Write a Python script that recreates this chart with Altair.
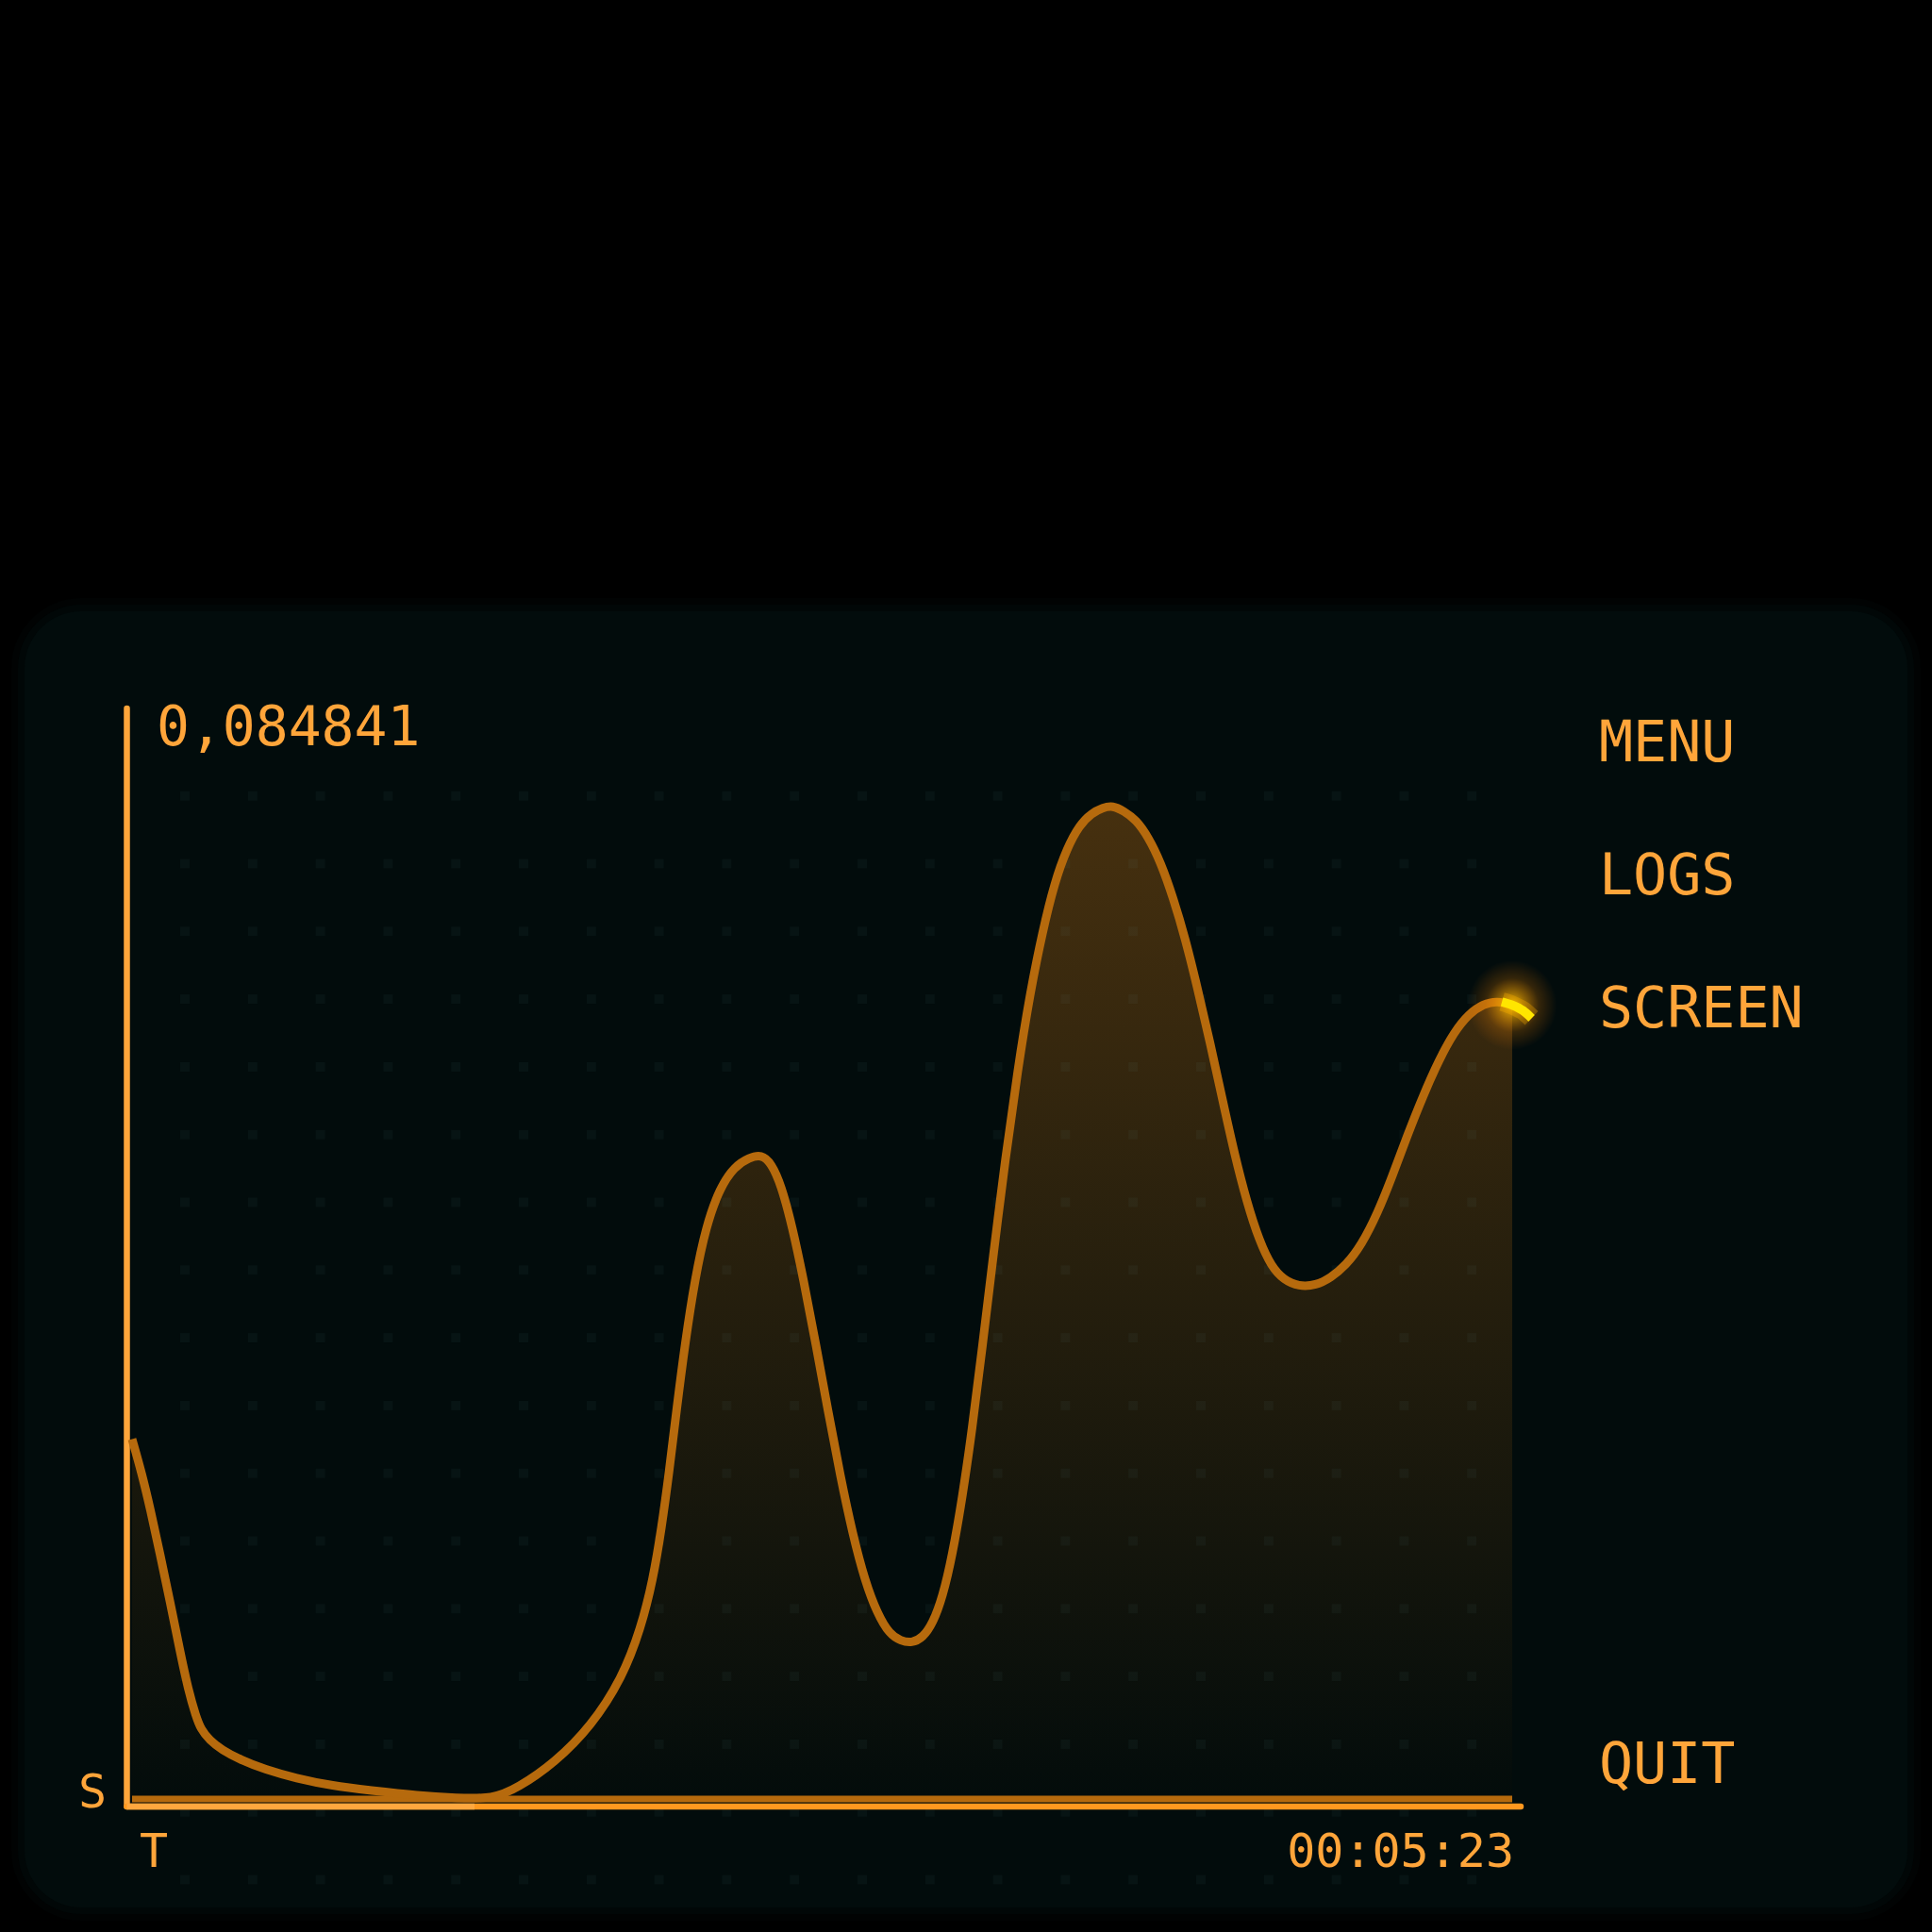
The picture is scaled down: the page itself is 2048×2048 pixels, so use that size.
import altair as alt
import pandas as pd

# ---------------- data ----------------
# elapsed time (s) and signal level (fraction of the axis height)
curve_t = [0.0, 2.25, 4.27, 6.58, 8.89, 11.19, 13.21, 14.94, 16.10,
           18.11, 21.00, 25.32, 31.09, 38.30, 46.95, 55.60, 67.14, 75.79, 84.44,
           90.20, 98.86, 107.51, 114.72, 119.04, 121.92, 123.94, 125.67, 127.40,
           129.42, 131.73, 134.32, 137.50, 140.96, 144.42, 147.30,
           149.61, 151.91, 154.51, 157.11, 159.99, 162.87, 165.76, 168.64, 171.52,
           174.41, 177.29, 179.89, 182.48,
           185.08, 187.38, 189.69, 192.00, 194.30, 196.61, 198.92, 201.51, 204.40,
           207.28, 210.16, 213.05, 215.93, 218.82, 221.70, 224.58, 227.18, 229.49,
           232.08, 234.96, 237.85, 240.73, 243.61, 246.50, 249.38, 252.27, 255.15,
           258.03, 260.92, 263.80, 266.68, 269.57, 273.03, 277.07,
           280.53, 284.00, 287.73, 291.48, 294.94, 298.40, 302.15, 305.90, 309.36,
           312.82, 316.28, 319.45, 323.0, 325.51, 327.53]
curve_v = [0.330, 0.299, 0.266, 0.224, 0.181, 0.136, 0.099, 0.076, 0.064,
           0.054, 0.045, 0.036, 0.027, 0.019, 0.012, 0.008, 0.003, 0.001, 0.000,
           0.010, 0.033, 0.067, 0.111, 0.156, 0.201, 0.249, 0.299, 0.356,
           0.418, 0.477, 0.525, 0.560, 0.580, 0.588, 0.591,
           0.583, 0.563, 0.525, 0.477, 0.418, 0.356, 0.296, 0.243, 0.200,
           0.170, 0.151, 0.145, 0.143,
           0.148, 0.161, 0.185, 0.224, 0.276, 0.339, 0.412, 0.497, 0.588,
           0.669, 0.739, 0.795, 0.841, 0.872, 0.893, 0.904, 0.909, 0.911,
           0.906, 0.898, 0.882, 0.859, 0.827, 0.789, 0.743, 0.694, 0.642,
           0.591, 0.547, 0.512, 0.488, 0.476, 0.470, 0.471,
           0.478, 0.489, 0.508, 0.537, 0.571, 0.608, 0.645, 0.678, 0.703,
           0.720, 0.729, 0.732, 0.728, 0.723, 0.716]

# highlighted head of the trace
head_t = [320.6, 323.0, 325.51, 327.53]
head_v = [0.731, 0.728, 0.723, 0.716]

duration = 323  # seconds shown on the time axis
value_label = "0,084841"
time_label = "00:05:23"
y_letter = "S"
x_letter = "T"
menu_items = ["MENU", "LOGS", "SCREEN", "QUIT"]

grid_cols = list(range(20))
grid_rows = list(range(17))

# ---------------- styling / layout ----------------
W, H = 1463, 1156
ORANGE = "#ffa53a"
TRACE = "#b66a0d"
PANEL = "#020c0c"
FONT = "DejaVu Sans Mono"
CURVE = "basis"

curve_df = pd.DataFrame({"t": curve_t, "v": curve_v})
area_df = curve_df[curve_df["t"] <= duration]
head_df = pd.DataFrame({"t": head_t, "v": head_v})
grid_df = pd.DataFrame([{"col": c, "row": r} for r in grid_rows for c in grid_cols])
one = pd.DataFrame({"k": [0]})

xs = alt.Scale(domain=[0, duration], nice=False, zero=False)
ys = alt.Scale(domain=[0, 1], nice=False, zero=False)
X = alt.X("t:Q", scale=xs, axis=None)
Y = alt.Y("v:Q", scale=ys, axis=None)

# panel (soft edged rounded rectangle)
panel_layers = []
for grow, op, rad in [(14, 0.25, 74), (7, 0.5, 67), (0, 1.0, 60)]:
    panel_layers.append(
        alt.Chart(one).mark_rect(color=PANEL, opacity=op, cornerRadius=rad).encode(
            x=alt.value(-114 - grow), x2=alt.value(1882 + grow),
            y=alt.value(-103 - grow), y2=alt.value(1271 + grow)))

area = alt.Chart(area_df).mark_area(
    interpolate=CURVE,
    color={"gradient": "linear", "x1": 0, "y1": 0, "x2": 0, "y2": 1,
           "stops": [{"offset": 0, "color": "#46300f"},
                     {"offset": 1, "color": "#030c0b"}]}
).encode(x=X, y=Y)

dots = alt.Chart(grid_df).mark_square(size=100, color="#7fb0b0", opacity=0.05).encode(
    x=alt.X("col:Q", scale=alt.Scale(domain=[-56 / 71.8, (W - 56) / 71.8], nice=False, zero=False), axis=None),
    y=alt.Y("row:Q", scale=alt.Scale(domain=[-92.7 / 71.8, (H - 92.7) / 71.8], nice=False, zero=False, reverse=True), axis=None),
)

baseline = alt.Chart(one).mark_rule(color=TRACE, strokeWidth=7).encode(
    x=alt.datum(0, scale=xs), x2=alt.datum(duration), y=alt.datum(0, scale=ys))

y_axis = alt.Chart(one).mark_rule(color=ORANGE, strokeWidth=6.5, strokeCap="round").encode(
    x=alt.value(-5.5), y=alt.value(0), y2=alt.value(1164))
x_axis = alt.Chart(one).mark_rule(color="#ff981f", strokeWidth=6.5, strokeCap="round").encode(
    y=alt.value(1164), x=alt.value(-5.5), x2=alt.value(1472))
x_axis_light = alt.Chart(one).mark_rule(color="#ffa73e", strokeWidth=6.5).encode(
    y=alt.value(1164), x=alt.value(-5.5), x2=alt.value(363))

line = alt.Chart(curve_df).mark_line(interpolate=CURVE, color=TRACE, strokeWidth=9).encode(x=X, y=Y)

glow = alt.Chart(head_df.iloc[[1]]).mark_circle(
    size=9000, opacity=1,
    color={"gradient": "radial", "x1": 0.5, "y1": 0.5, "r1": 0, "x2": 0.5, "y2": 0.5, "r2": 0.5,
           "stops": [{"offset": 0, "color": "rgba(255,200,0,0.95)"},
                     {"offset": 0.3, "color": "rgba(255,170,0,0.55)"},
                     {"offset": 0.6, "color": "rgba(255,140,0,0.2)"},
                     {"offset": 1, "color": "rgba(255,120,0,0)"}]}
).encode(x=X, y=alt.Y("v:Q", scale=ys, axis=None))

head_halo = alt.Chart(head_df).mark_line(
    interpolate="monotone", color="#ffb000", strokeWidth=20, opacity=0.3, strokeCap="butt"
).encode(x=X, y=Y)
head = alt.Chart(head_df).mark_line(interpolate="monotone", color="#ffe600", strokeWidth=9.5).encode(x=X, y=Y)


def label(text, x, y, size, align="left"):
    return alt.Chart(pd.DataFrame({"label": [text]})).mark_text(
        font=FONT, fontSize=size, color=ORANGE, align=align, baseline="alphabetic"
    ).encode(text="label:N", x=alt.value(x), y=alt.value(y))


texts = [
    label(value_label, 26, 39, 58),
    label(y_letter, -42, 1165, 50, "center"),
    label(x_letter, 23, 1228, 50, "center"),
    label(time_label, 1465, 1228, 50, "right"),
]
menu_y = [56, 197, 338, 1139]
for item, yy in zip(menu_items, menu_y):
    texts.append(label(item, 1555, yy, 60))

chart = alt.layer(
    *panel_layers, area, dots, baseline, y_axis, x_axis, x_axis_light, line,
    glow, head_halo, head, *texts
).resolve_scale(x="independent", y="independent").properties(
    width=W, height=H,
    padding={"left": 140, "top": 751, "right": 445, "bottom": 141},
    autosize=alt.AutoSizeParams(type="none"),
).configure(background="#000000").configure_view(stroke=None)

chart.save("out.html", embed_options={"renderer": "svg", "actions": False})
